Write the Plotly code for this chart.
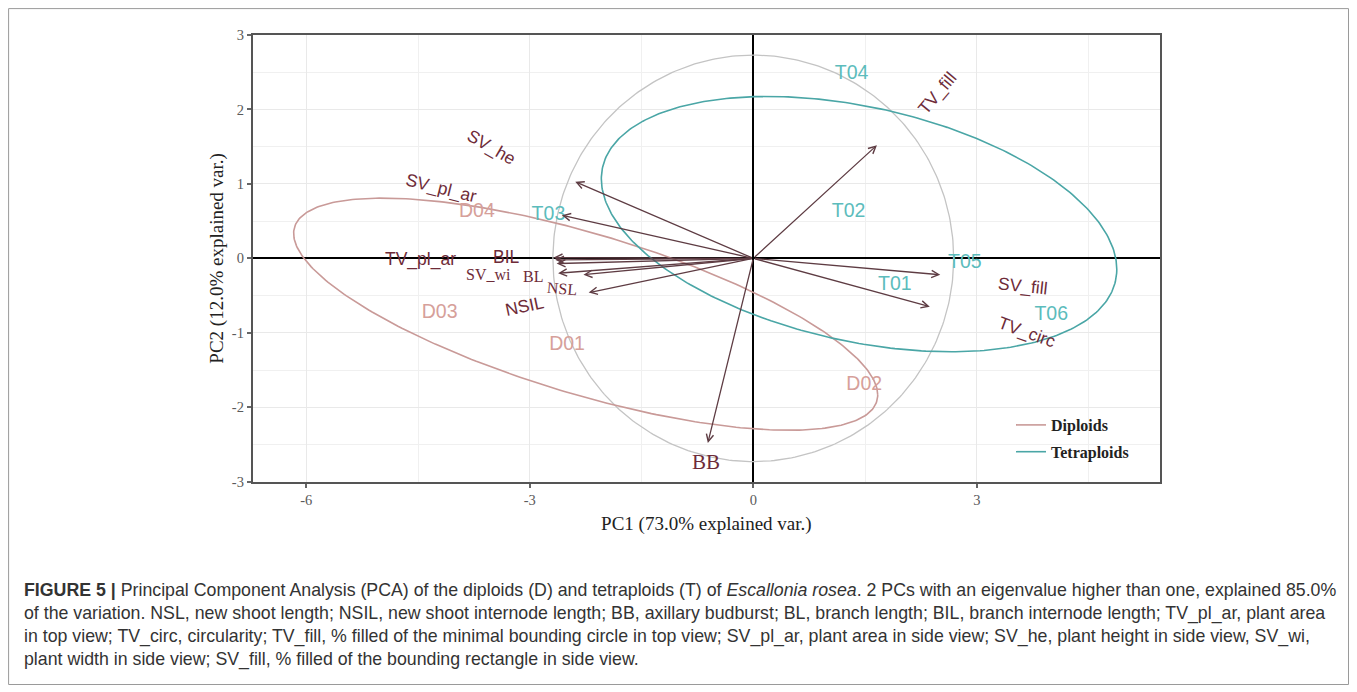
import numpy as np
import plotly.graph_objects as go

# ---------------- data ----------------
var_names = ["SV_he", "SV_pl_ar", "BIL", "TV_pl_ar", "SV_wi", "BL", "NSL", "NSIL",
             "TV_fill", "SV_fill", "TV_circ", "BB"]
var_pc1 = [-2.39, -2.57, -2.68, -2.66, -2.64, -2.62, -2.28, -2.21, 1.66, 2.51, 2.37, -0.61]
var_pc2 = [1.03, 0.58, 0.01, -0.02, -0.07, -0.20, -0.22, -0.46, 1.52, -0.22, -0.65, -2.48]

var_label_pc1 = [-3.52, -4.19, -3.31, -4.47, -3.56, -2.96, -2.57, -3.07, 2.47, 3.62, 3.67, -0.64]
var_label_pc2 = [1.49, 0.94, 0.02, -0.02, -0.22, -0.25, -0.40, -0.64, 2.22, -0.38, -1.00, -2.73]
var_label_angle = [30, 14, 0, 0, 0, 0, 5, -12, -50, 6, 20, 0]
var_label_serif = [False, False, False, False, True, True, True, False, False, False, False, True]

sample_names = ["D01", "D02", "D03", "D04", "T01", "T02", "T03", "T04", "T05", "T06"]
sample_group = ["Diploids"] * 4 + ["Tetraploids"] * 6
sample_pc1 = [-2.50, 1.49, -4.21, -3.71, 1.90, 1.28, -2.75, 1.32, 2.84, 4.00]
sample_pc2 = [-1.16, -1.70, -0.74, 0.62, -0.36, 0.62, 0.58, 2.48, -0.07, -0.76]

group_names = ["Diploids", "Tetraploids"]
ellipse_center_pc1 = [-2.25, 1.42]
ellipse_center_pc2 = [-0.75, 0.46]
ellipse_var_pc1 = [15.37, 11.97]
ellipse_var_pc2 = [2.43, 2.94]
ellipse_cov = [-4.25, -2.10]

circle_radius_pc1 = 2.69
circle_radius_pc2 = 2.73

x_tick_vals = [-6, -3, 0, 3]
x_tick_text = ["-6", "-3", "0", "3"]
y_tick_vals = [-3, -2, -1, 0, 1, 2, 3]
y_tick_text = ["-3", "-2", "-1", "0", "1", "2", "3"]

x_title = "PC1 (73.0% explained var.)"
y_title = "PC2 (12.0% explained var.)"

caption_lines = [
    "<b>FIGURE 5 |</b> Principal Component Analysis (PCA) of the diploids (D) and tetraploids (T) of "
    "<i>Escallonia rosea</i>. 2 PCs with an eigenvalue higher than one, explained 85.0%",
    "of the variation. NSL, new shoot length; NSIL, new shoot internode length; BB, axillary budburst; "
    "BL, branch length; BIL, branch internode length; TV_pl_ar, plant area",
    "in top view; TV_circ, circularity; TV_fill, % filled of the minimal bounding circle in top view; "
    "SV_pl_ar, plant area in side view; SV_he, plant height in side view, SV_wi,",
    "plant width in side view; SV_fill, % filled of the bounding rectangle in side view.",
]

# ---------------- layout helpers (page body has an 8px margin) ----------------
OFF = 8
W, H = 1357 - OFF, 692 - OFF


def px(x):
    return (x - OFF) / W


def py(y):
    return 1 - (y - OFF) / H


group_line_color = {"Diploids": "#c99a98", "Tetraploids": "#4aa6a6"}
group_text_color = {"Diploids": "#d6a09a", "Tetraploids": "#5cbcbc"}
arrow_color = "#5e3c43"
var_text_color = "#6e2b38"
SANS = "Liberation Sans, Arial, sans-serif"
SERIF = "Liberation Serif, Times New Roman, serif"

fig = go.Figure()

t = np.linspace(0, 2 * np.pi, 361)
unit = np.vstack([np.cos(t), np.sin(t)])

# correlation circle
fig.add_trace(go.Scatter(
    x=circle_radius_pc1 * np.cos(t), y=circle_radius_pc2 * np.sin(t),
    mode="lines", line=dict(color="#c4c4c4", width=1.3),
    showlegend=False, hoverinfo="skip"))

# group ellipses
for i, g in enumerate(group_names):
    S = np.array([[ellipse_var_pc1[i], ellipse_cov[i]],
                  [ellipse_cov[i], ellipse_var_pc2[i]]])
    L = np.linalg.cholesky(S)
    pts = L @ unit
    fig.add_trace(go.Scatter(
        x=pts[0] + ellipse_center_pc1[i], y=pts[1] + ellipse_center_pc2[i],
        mode="lines", name=g, legendgroup=g,
        line=dict(color=group_line_color[g], width=1.6),
        hoverinfo="skip"))

# sample labels
for g in group_names:
    idx = [k for k, gg in enumerate(sample_group) if gg == g]
    fig.add_trace(go.Scatter(
        x=[sample_pc1[k] for k in idx], y=[sample_pc2[k] for k in idx],
        text=[sample_names[k] for k in idx], mode="text",
        textfont=dict(family=SANS, size=19.5, color=group_text_color[g]),
        showlegend=False, hoverinfo="skip"))

annotations = []
# loading arrows
for vx, vy in zip(var_pc1, var_pc2):
    annotations.append(dict(
        x=vx, y=vy, ax=0, ay=0, xref="x", yref="y", axref="x", ayref="y",
        text="", showarrow=True, arrowhead=5, arrowsize=1.1, arrowwidth=1.3,
        arrowcolor=arrow_color))
# loading labels
for name, lx, ly, ang, serif in zip(var_names, var_label_pc1, var_label_pc2,
                                    var_label_angle, var_label_serif):
    annotations.append(dict(
        x=lx, y=ly, xref="x", yref="y", text=name, showarrow=False,
        textangle=ang,
        font=dict(family=SERIF if serif else SANS,
                  size=(21 if name == "BB" else 16) if serif else 17.5,
                  color=var_text_color)))

# caption
cap_y = [590, 613, 636, 659]
for line, yy in zip(caption_lines, cap_y):
    annotations.append(dict(
        x=px(22), y=py(yy), xref="paper", yref="paper", xanchor="left",
        yanchor="middle", text=line, showarrow=False, align="left",
        font=dict(family=SANS, size=17.75, color="#333333")))

axis_common = dict(
    showgrid=True, gridcolor="#e9e9e9", gridwidth=1,
    zeroline=True, zerolinecolor="#000000", zerolinewidth=2,
    showline=True, mirror=True, linecolor="#555555", linewidth=1.8,
    ticks="outside", ticklen=4, tickcolor="#666666", tickwidth=1.5,
    tickfont=dict(family=SERIF, size=14.5, color="#5a5a5a"),
    automargin=False,
)

fig.update_layout(
    width=W, height=H,
    margin=dict(l=0, r=0, t=0, b=0),
    paper_bgcolor="white", plot_bgcolor="white",
    xaxis=dict(domain=[px(252.7), px(1160)], range=[-6.72, 5.46],
               tickmode="array", tickvals=x_tick_vals, ticktext=x_tick_text,
               minor=dict(dtick=1.5, tick0=0, showgrid=True, gridcolor="#f0f0f0", ticklen=0),
               title=dict(text=x_title, standoff=10,
                          font=dict(family=SERIF, size=19, color="#222222")),
               **axis_common),
    yaxis=dict(domain=[py(481.7), py(35)], range=[-3, 3],
               tickmode="array", tickvals=y_tick_vals, ticktext=y_tick_text,
               minor=dict(dtick=0.5, tick0=0, showgrid=True, gridcolor="#f0f0f0", ticklen=0),
               title=dict(text=y_title, standoff=3,
                          font=dict(family=SERIF, size=19, color="#222222")),
               **axis_common),
    showlegend=True,
    legend=dict(x=px(1011), y=py(408), xanchor="left", yanchor="top",
                bgcolor="rgba(255,255,255,0)", borderwidth=0,
                font=dict(family=SERIF, size=16, color="#222222", weight="bold"),
                itemwidth=30, tracegroupgap=3),
    annotations=annotations,
    shapes=[dict(type="rect", xref="paper", yref="paper",
                 x0=px(8.6), x1=px(1348.5), y0=py(684.5), y1=py(8.6),
                 line=dict(color="#9a9a9a", width=1))],
)

fig.write_html("out.html")
